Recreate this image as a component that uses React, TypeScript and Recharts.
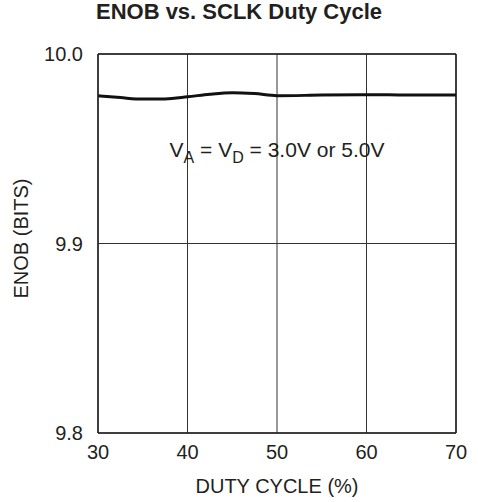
import React from 'react';
import { LineChart, Line, XAxis, YAxis, CartesianGrid, ReferenceLine, ReferenceDot } from 'recharts';

const dutyCycle = [30, 32.5, 35, 37.5, 40, 42.5, 45, 47.5, 50, 55, 60, 65, 70];
const enob = [9.978, 9.977, 9.9762, 9.9763, 9.9774, 9.9788, 9.9796, 9.9791, 9.978, 9.9783, 9.9785, 9.9784, 9.9784];
const xTicks = [30, 40, 50, 60, 70];
const yTicks = [9.8, 9.9, 10.0];

const data = dutyCycle.map((d, i) => ({ duty: d, enob: enob[i] }));

const FONT = 'Arial, "Liberation Sans", Helvetica, sans-serif';
const INK = '#231f20';

const YLabel = (props: any) => {
  const { x, y, height } = props.viewBox;
  const cx = x - 10;
  const cy = y + height / 2 - 5;
  return (
    <text x={cx} y={cy} transform={`rotate(-90, ${cx}, ${cy})`} textAnchor="middle"
      fontSize={20} fill={INK} fontFamily={FONT}>
      ENOB (BITS)
    </text>
  );
};

const XLabel = (props: any) => {
  const { x, y, width } = props.viewBox;
  return (
    <text x={x + width / 2} y={y + 60} textAnchor="middle" fontSize={20} fill={INK} fontFamily={FONT}>
      DUTY CYCLE (%)
    </text>
  );
};

const Note = (props: any) => {
  const { x, y } = props.viewBox;
  return (
    <text x={x} y={y} textAnchor="middle" fontSize={21} fill={INK} fontFamily={FONT}>
      V<tspan fontSize={16} dy={6}>A</tspan>
      <tspan dy={-6}> = V</tspan>
      <tspan fontSize={16} dy={6}>D</tspan>
      <tspan dy={-6}> = 3.0V or 5.0V</tspan>
    </text>
  );
};

export default function App() {
  return (
    <div style={{ position: 'absolute', left: 0, top: 0, width: 478, height: 502, background: '#fff' }}>
      <div style={{ position: 'absolute', left: 0, top: 1, width: 478, textAlign: 'center', fontFamily: FONT,
        fontWeight: 'bold', fontSize: 22, lineHeight: '22px', color: INK }}>
        ENOB vs. SCLK Duty Cycle
      </div>
      <LineChart width={478} height={502} data={data}
        margin={{ top: 54, right: 22, left: 38, bottom: 29 }}>
        <CartesianGrid stroke="#333" strokeWidth={1} horizontalValues={yTicks} verticalValues={xTicks} />
        <XAxis dataKey="duty" type="number" domain={[30, 70]} ticks={xTicks} height={40}
          tickLine={false} tickSize={6} tickMargin={6} axisLine={{ stroke: INK, strokeWidth: 1.5 }}
          tick={{ fill: INK, fontSize: 20, fontFamily: FONT }} label={{ content: XLabel }} />
        <YAxis type="number" domain={[9.8, 10.0]} ticks={yTicks} width={60} allowDataOverflow
          tickFormatter={(v: number) => v.toFixed(1)} tickLine={false} tickSize={6} tickMargin={9}
          axisLine={{ stroke: INK, strokeWidth: 1.5 }}
          tick={{ fill: INK, fontSize: 20, fontFamily: FONT }} label={{ content: YLabel }} />
        <ReferenceLine y={10.0} stroke={INK} strokeWidth={1.5} />
        <ReferenceLine x={70} stroke={INK} strokeWidth={1.5} />
        <ReferenceDot x={50} y={9.9456} r={0} stroke="none" fill="none" label={{ content: Note }} />
        <Line type="monotone" dataKey="enob" stroke="#111" strokeWidth={3} dot={false}
          activeDot={false} isAnimationActive={false} />
      </LineChart>
    </div>
  );
}
